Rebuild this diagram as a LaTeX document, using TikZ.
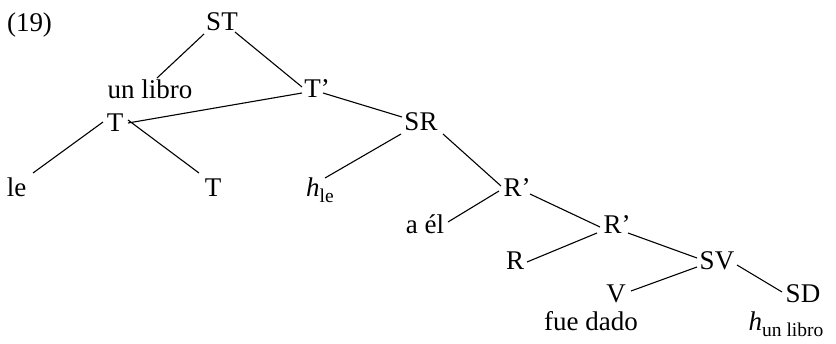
\documentclass[tikz,border=0pt]{standalone}
\usepackage{fontspec}
\setmainfont{Liberation Serif}
\usetikzlibrary{calc}
\newcommand{\subtxt}[1]{\raisebox{-6.5pt}{\fontsize{19.5}{20}\selectfont #1}}
\begin{document}
\begin{tikzpicture}[x=1pt,y=1pt,
  lbl/.style={anchor=base,inner sep=0pt,font=\fontsize{27}{30}\selectfont},
  edge/.style={line width=1.1pt}]
\useasboundingbox (0,0) rectangle (836,-343);
% nodes (x = centre, y = -baseline)
\node[lbl] (n19) at (29.5,-31) {(19)};
\node[lbl] (ST) at (222,-30) {ST};
\node[lbl] (unlibro) at (150,-98) {un libro};
\node[lbl] (Tp) at (317,-97) {T’};
\node[lbl] (Tu) at (115,-131) {T};
\node[lbl] (SR) at (421,-130) {SR};
\node[lbl] (le) at (16.5,-196) {le};
\node[lbl] (Tl) at (213,-196) {T};
\node[lbl] (hle) at (320,-196) {\textit{h}\subtxt{le}};
\node[lbl] (Rp1) at (517,-196) {R’};
\node[lbl] (ael) at (425,-233) {a él};
\node[lbl] (Rp2) at (617,-233) {R’};
\node[lbl] (R) at (515,-269) {R};
\node[lbl] (SV) at (717,-269) {SV};
\node[lbl] (V) at (616,-302) {V};
\node[lbl] (SD) at (803,-302) {SD};
\node[lbl] (fuedado) at (591,-330) {fue dado};
\node[lbl] (hun) at (786,-330) {\textit{h}\subtxt{un libro}};
% connectors
\draw[edge] ($(ST.base)+(-18,-4)$) -- ($(unlibro.base)+(7,20)$);
\draw[edge] ($(ST.base)+(13,-2)$) -- ($(Tp.base)+(-15,10)$);
\draw[edge] ($(Tp.base)+(-15,4)$) -- ($(Tu.base)+(13,8)$);
\draw[edge] ($(Tp.base)+(6,4)$) -- ($(SR.base)+(-19,13)$);
\draw[edge] ($(Tu.base)+(-12,9)$) -- ($(le.base)+(16.5,23)$);
\draw[edge] ($(Tu.base)+(13,11)$) -- ($(Tl.base)+(-14,23)$);
\draw[edge] ($(SR.base)+(-20,-4)$) -- ($(hle.base)+(5,18)$);
\draw[edge] ($(SR.base)+(22,-4)$) -- ($(Rp1.base)+(-16,10)$);
\draw[edge] ($(Rp1.base)+(-18,5)$) -- ($(ael.base)+(23,11)$);
\draw[edge] ($(Rp1.base)+(13,2)$) -- ($(Rp2.base)+(-17,6)$);
\draw[edge] ($(Rp2.base)+(-20,0)$) -- ($(R.base)+(12,7)$);
\draw[edge] ($(Rp2.base)+(11,0)$) -- ($(SV.base)+(-20,11)$);
\draw[edge] ($(SV.base)+(-20,2)$) -- ($(V.base)+(15,11)$);
\draw[edge] ($(SV.base)+(20,4)$) -- ($(SD.base)+(-21,10)$);
\end{tikzpicture}
\end{document}
